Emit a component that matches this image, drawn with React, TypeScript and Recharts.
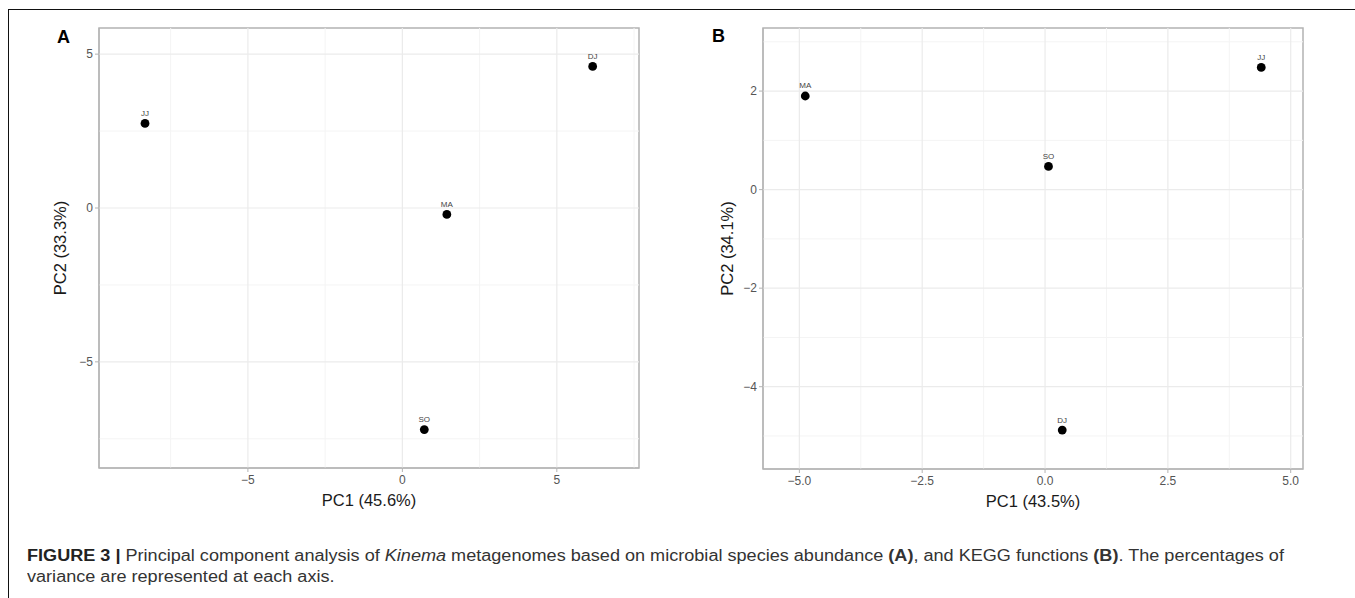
import {
  ScatterChart,
  Scatter,
  XAxis,
  YAxis,
  ReferenceLine,
  ReferenceArea,
} from "recharts";

// Panel A: microbial species abundance
const samplesA = ["JJ", "MA", "DJ", "SO"];
const pc1A = [-8.33, 1.44, 6.16, 0.71];
const pc2A = [2.75, -0.21, 4.6, -7.2];
const xTicksA = [-5, 0, 5];
const yTicksA = [-5, 0, 5];
const xMinorA = [-7.5, -2.5, 2.5, 7.5];
const yMinorA = [-7.5, -2.5, 2.5];
const xDomainA: [number, number] = [-9.82, 7.66];
const yDomainA: [number, number] = [-8.45, 5.85];

// Panel B: KEGG functions
const samplesB = ["MA", "SO", "JJ", "DJ"];
const pc1B = [-4.88, 0.07, 4.4, 0.35];
const pc2B = [1.9, 0.47, 2.48, -4.88];
const xTicksB = [-5, -2.5, 0, 2.5, 5];
const yTicksB = [-4, -2, 0, 2];
const xMinorB = [-3.75, -1.25, 1.25, 3.75];
const yMinorB = [-5, -3, -1, 1, 3];
const xDomainB: [number, number] = [-5.74, 5.25];
const yDomainB: [number, number] = [-5.67, 3.28];

const FONT = "'Liberation Sans', Arial, Helvetica, sans-serif";
const GRID_MAJOR = "#ebebeb";
const GRID_MINOR = "#f4f4f4";
const BORDER = "#b3b3b3";
const TICK_TEXT = "#555";

const minus = (s: string) => s.replace("-", "\u2212");

const Dot = (props: any) => {
  const { cx, cy } = props;
  const name = props.payload?.name ?? props.name;
  return (
    <g>
      <circle cx={cx} cy={cy} r={4.4} fill="#000" />
      <text
        x={cx}
        y={cy - 7.5}
        textAnchor="middle"
        fontSize={8}
        fontFamily={FONT}
        fill="#444"
      >
        {name}
      </text>
    </g>
  );
};

interface PanelProps {
  names: string[];
  xs: number[];
  ys: number[];
  xTicks: number[];
  yTicks: number[];
  xMinor: number[];
  yMinor: number[];
  xDomain: [number, number];
  yDomain: [number, number];
  xLabel: string;
  yLabel: string;
  width: number;
  height: number;
  margin: { top: number; right: number; bottom: number; left: number };
  yAxisWidth: number;
  xAxisHeight: number;
  xFmt: (v: number) => string;
  yFmt: (v: number) => string;
}

function PcaPanel(p: PanelProps) {
  const data = p.names.map((n, i) => ({ name: n, x: p.xs[i], y: p.ys[i] }));
  const tickStyle = { fill: TICK_TEXT, fontSize: 12, fontFamily: FONT };
  const titleStyle = { fontSize: 16.5, fontFamily: FONT, fill: "#1a1a1a" };
  return (
    <ScatterChart width={p.width} height={p.height} margin={p.margin}>
      <XAxis
        type="number"
        dataKey="x"
        domain={p.xDomain}
        ticks={p.xTicks}
        allowDataOverflow
        height={p.xAxisHeight}
        tick={tickStyle}
        tickFormatter={p.xFmt}
        tickSize={4}
        tickMargin={3}
        tickLine={{ stroke: BORDER }}
        axisLine={{ stroke: BORDER }}
        label={{ value: p.xLabel, position: "center", ...titleStyle }}
      />
      <YAxis
        type="number"
        dataKey="y"
        domain={p.yDomain}
        ticks={p.yTicks}
        allowDataOverflow
        width={p.yAxisWidth}
        tick={tickStyle}
        tickFormatter={p.yFmt}
        tickSize={4}
        tickMargin={2}
        tickLine={{ stroke: BORDER }}
        axisLine={{ stroke: BORDER }}
        label={{ value: p.yLabel, angle: -90, position: "center", ...titleStyle }}
      />
      {p.xMinor.map((v) => (
        <ReferenceLine key={"xm" + v} x={v} stroke={GRID_MINOR} strokeWidth={1} />
      ))}
      {p.yMinor.map((v) => (
        <ReferenceLine key={"ym" + v} y={v} stroke={GRID_MINOR} strokeWidth={1} />
      ))}
      {p.xTicks.map((v) => (
        <ReferenceLine key={"xM" + v} x={v} stroke={GRID_MAJOR} strokeWidth={1.2} />
      ))}
      {p.yTicks.map((v) => (
        <ReferenceLine key={"yM" + v} y={v} stroke={GRID_MAJOR} strokeWidth={1.2} />
      ))}
      <ReferenceArea
        x1={p.xDomain[0]}
        x2={p.xDomain[1]}
        y1={p.yDomain[0]}
        y2={p.yDomain[1]}
        fill="none"
        fillOpacity={0}
        stroke={BORDER}
        strokeWidth={1.5}
        ifOverflow="visible"
      />
      <Scatter data={data} shape={<Dot />} isAnimationActive={false} />
    </ScatterChart>
  );
}

export default function App() {
  return (
    <div
      style={{
        position: "absolute",
        left: 0,
        top: 0,
        width: 1355,
        height: 598,
        background: "#fff",
        overflow: "hidden",
        fontFamily: FONT,
      }}
    >
      {/* frame lines */}
      <div
        style={{
          position: "absolute",
          left: 8,
          top: 9,
          width: 1360,
          height: 600,
          borderTop: "1px solid #111",
          borderLeft: "1px solid #111",
        }}
      />
      <div style={{ position: "absolute", left: 0, top: 0 }}>
        <PcaPanel
          names={samplesA}
          xs={pc1A}
          ys={pc2A}
          xTicks={xTicksA}
          yTicks={yTicksA}
          xMinor={xMinorA}
          yMinor={yMinorA}
          xDomain={xDomainA}
          yDomain={yDomainA}
          xLabel="PC1 (45.6%)"
          yLabel="PC2 (33.3%)"
          width={680}
          height={532}
          margin={{ top: 28, right: 41, bottom: 0, left: 21 }}
          yAxisWidth={78}
          xAxisHeight={64}
          xFmt={(v) => minus(String(v))}
          yFmt={(v) => minus(String(v))}
        />
      </div>
      <div style={{ position: "absolute", left: 680, top: 0 }}>
        <PcaPanel
          names={samplesB}
          xs={pc1B}
          ys={pc2B}
          xTicks={xTicksB}
          yTicks={yTicksB}
          xMinor={xMinorB}
          yMinor={yMinorB}
          xDomain={xDomainB}
          yDomain={yDomainB}
          xLabel="PC1 (43.5%)"
          yLabel="PC2 (34.1%)"
          width={675}
          height={533}
          margin={{ top: 28, right: 52, bottom: 0, left: 11 }}
          yAxisWidth={72}
          xAxisHeight={64}
          xFmt={(v) => minus(v.toFixed(1))}
          yFmt={(v) => minus(String(v))}
        />
      </div>
      <div
        style={{
          position: "absolute",
          left: 57,
          top: 26,
          fontSize: 18,
          fontWeight: "bold",
          color: "#000",
          lineHeight: "22px",
        }}
      >
        A
      </div>
      <div
        style={{
          position: "absolute",
          left: 712,
          top: 25,
          fontSize: 18,
          fontWeight: "bold",
          color: "#000",
          lineHeight: "22px",
        }}
      >
        B
      </div>
      <div
        style={{
          position: "absolute",
          left: 27,
          top: 545,
          fontSize: 16,
          lineHeight: "21px",
          color: "#333",
          whiteSpace: "nowrap",
          transform: "scaleX(1.13)",
          transformOrigin: "0 0",
        }}
      >
        <b style={{ color: "#222" }}>FIGURE 3 |</b> Principal component analysis of{" "}
        <i>Kinema</i> metagenomes based on microbial species abundance <b>(A)</b>, and
        KEGG functions <b>(B)</b>. The percentages of
        <br />
        variance are represented at each axis.
      </div>
    </div>
  );
}
